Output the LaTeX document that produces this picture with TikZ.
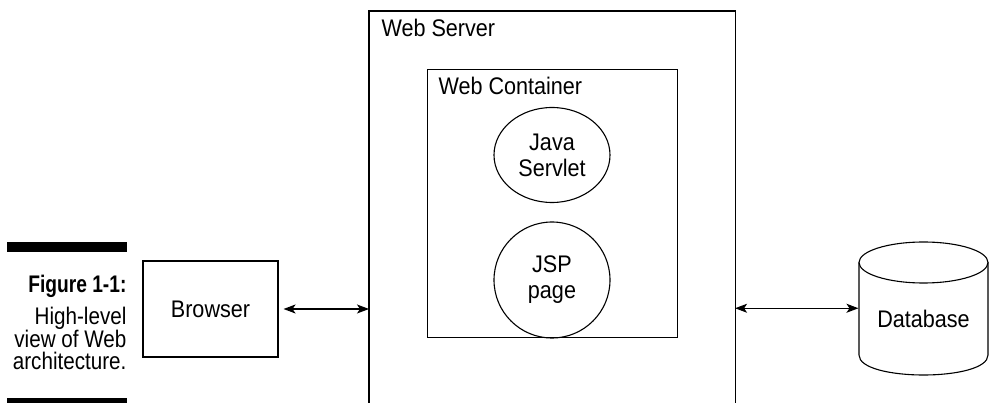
\documentclass[tikz,border=0pt]{standalone}
\usepackage{fontspec}
\setmainfont{Liberation Sans}[FakeStretch=0.9]
\newfontfamily\capboldfont{Liberation Sans}[FakeStretch=0.8]
\newfontfamily\capfont{Liberation Sans}[FakeStretch=0.86]
\usetikzlibrary{arrows.meta,shapes.geometric}
\begin{document}
\begin{tikzpicture}[x=1pt,y=-1pt,
  line width=1.1pt,
  >={Stealth[length=12pt,width=9pt,inset=3pt]},
  txt/.style={font=\fontsize{24}{27}\selectfont, inner sep=0pt},
  boxnode/.style={draw, rectangle, inner sep=0pt},
  ovalnode/.style={draw, ellipse, inner sep=0pt, align=center, font=\fontsize{24}{26}\selectfont},
  capline/.style={font=\fontsize{24}{26}\selectfont, inner sep=0pt, anchor=base east},
  bar/.style={fill=black, draw=none}
]
\useasboundingbox (0,0) rectangle (989,403);

% caption bars
\fill[bar] (7,242) rectangle (127,252);
\fill[bar] (7,398) rectangle (127,403);
\node[capline] (cap1) at (127,293) {\capboldfont\bfseries Figure 1-1:};
\node[capline] (cap2) at (127,325) {\capfont High-level};
\node[capline] (cap3) at (127,348) {\capfont view of Web};
\node[capline] (cap4) at (127,370) {\capfont architecture.};

% web server (open at bottom)
\node[inner sep=0pt, minimum width=365, minimum height=392, anchor=north west] (server) at (369,11) {};
\draw (server.south west) -- (server.north west) -- (server.north east) -- (server.south east);
\node[txt, anchor=base west] (servertitle) at (381,37) {Web Server};

% web container
\node[boxnode, minimum width=250, minimum height=268, anchor=north west] (container) at (427,69) {};
\node[txt, anchor=base west] (containertitle) at (438,95) {Web Container};

% java servlet & jsp
\node[ovalnode, minimum width=116, minimum height=95] (servlet) at (552,155) {Java\\Servlet};
\node[ovalnode, circle, minimum size=116] (jsp) at (552,280) {JSP\\page};

% browser
\node[boxnode, txt, minimum width=135, minimum height=96] (browser) at (210.5,309) {Browser};

% database
\node[txt, minimum width=129, minimum height=112.5] (db) at (923.5,318.75) {Database};
\draw (859,262.5) -- (859,355) .. controls (859,381.67) and (988,381.67) .. (988,355) -- (988,262.5);
\draw (923.5,262.5) ellipse [x radius=64.5, y radius=20.5];

% connectors
\draw[<->] ([xshift=5pt]browser.east) -- (browser.east -| server.west);
\draw[<->] ([yshift=10.5pt]db.west -| server.east) -- ([yshift=10.5pt]db.west);
\end{tikzpicture}
\end{document}
